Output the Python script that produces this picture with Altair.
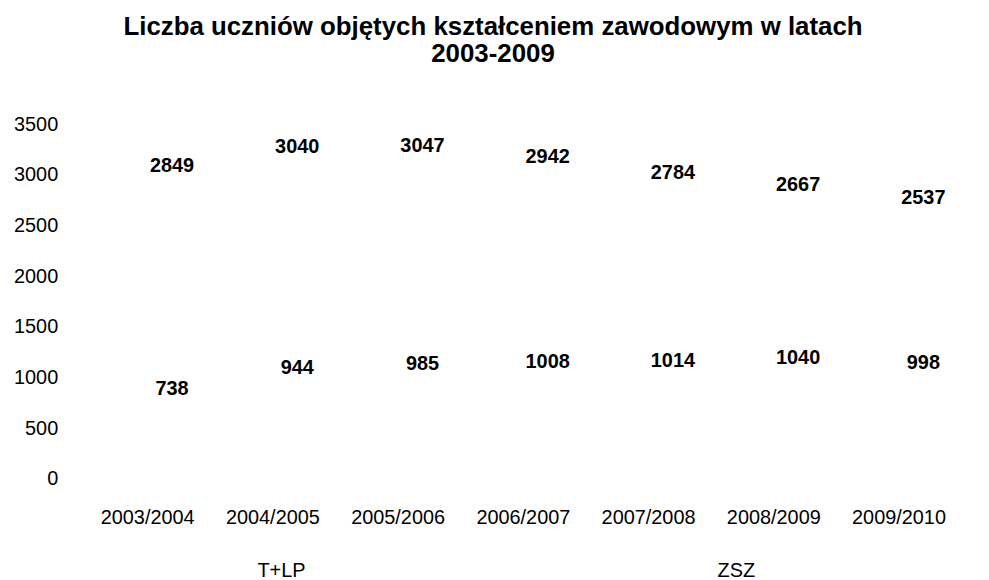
import altair as alt
import pandas as pd

years = ["2003/2004", "2004/2005", "2005/2006", "2006/2007", "2007/2008", "2008/2009", "2009/2010"]
series_names = ["T+LP", "ZSZ"]
t_lp = [2849, 3040, 3047, 2942, 2784, 2667, 2537]
zsz = [738, 944, 985, 1008, 1014, 1040, 998]
y_ticks = [0, 500, 1000, 1500, 2000, 2500, 3000, 3500]

rows = []
for name, vals in zip(series_names, [t_lp, zsz]):
    for y, v in zip(years, vals):
        rows.append({"rok": y, "seria": name, "liczba": v})
df = pd.DataFrame(rows)

FONT = "Liberation Sans"

x = alt.X("rok:N", sort=years, title=None,
          scale=alt.Scale(paddingInner=0, paddingOuter=0),
          axis=alt.Axis(labelAngle=0, labelFontSize=20, labelPadding=29, ticks=False,
                        domain=False, grid=False, labelColor="black", labelFont=FONT))
y = alt.Y("liczba:Q", title=None,
          scale=alt.Scale(domain=[0, 3500], nice=False),
          axis=alt.Axis(values=y_ticks, format="d", labelFontSize=20,
                        labelPadding=27, ticks=False, domain=False, grid=False,
                        labelColor="black", labelFont=FONT))

lines = alt.Chart(df).mark_line(strokeWidth=1).encode(
    x=x, y=y,
    color=alt.Color("seria:N", sort=series_names,
                    scale=alt.Scale(domain=series_names, range=["white", "white"]),
                    legend=alt.Legend(title=None, orient="none", direction="horizontal",
                                      legendX=154, legendY=440, labelFontSize=20,
                                      labelFont=FONT, labelColor="black",
                                      symbolOpacity=0, symbolSize=1, labelOffset=0,
                                      columnPadding=394)),
)

base_text = alt.Chart(df).encode(
    x=x, y=y, text=alt.Text("liczba:Q", format="d"), detail="seria:N",
)
labels_top = base_text.transform_filter(alt.datum.seria == "T+LP").mark_text(
    fontSize=20, fontWeight="bold", font=FONT, color="black", dy=-24, dx=25)
labels_bottom = base_text.transform_filter(alt.datum.seria == "ZSZ").mark_text(
    fontSize=20, fontWeight="bold", font=FONT, color="black", dy=-15, dx=25)

chart = alt.layer(lines, labels_top, labels_bottom).properties(
    width=882, height=357,
    autosize=alt.AutoSizeParams(type="none"),
    padding={"left": 77, "top": 115, "right": 20, "bottom": 100},
    title=alt.Title(["Liczba uczniów objętych kształceniem zawodowym w latach", "2003-2009"],
                    fontSize=26, fontWeight="bold", font=FONT, color="black",
                    anchor="middle", dx=-30, offset=47, lineHeight=28),
).configure_view(stroke=None)

chart.save("out.html", embed_options={"renderer": "svg", "actions": False})
